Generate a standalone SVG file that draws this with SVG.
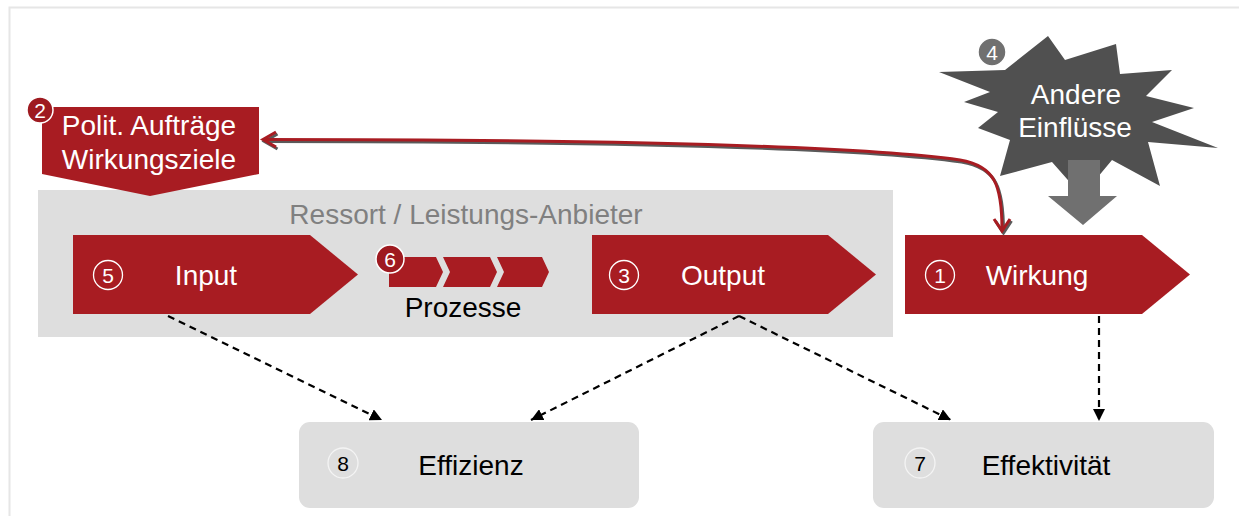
<svg xmlns="http://www.w3.org/2000/svg" width="1239" height="516" viewBox="0 0 1239 516">
<style>
text{font-family:"Liberation Sans",Arial,sans-serif;text-anchor:middle}
.lbl{font-size:28px}
.w{fill:#ffffff}
.k{fill:#000000}
.red{fill:#a81c22}
.num{font-size:21px}
.ring{fill:none;stroke:#ffffff;stroke-width:1.3}
.badge{fill:#9e1a20;stroke:#ffffff;stroke-width:1.5}
.dash{fill:none;stroke:#000;stroke-width:2.2;stroke-dasharray:7 5}
.box{fill:#dedede}
</style>
<defs>
<marker id="ah" viewBox="0 0 10 10" refX="10" refY="5" markerWidth="12" markerHeight="12" markerUnits="userSpaceOnUse" orient="auto">
<path d="M0,0 L10,5 L0,10 z" fill="#000"/>
</marker>
</defs>
<rect width="1239" height="516" fill="#ffffff"/>
<path d="M9.5,516 V7.5 H1239" fill="none" stroke="#e6e6e6" stroke-width="2"/>

<g id="container">
<rect x="38" y="190" width="855" height="147" class="box"/>
<text x="466" y="224" class="lbl" fill="#808080">Ressort / Leistungs-Anbieter</text>
</g>

<g id="polit">
<polygon points="42,107 259,107 259,174 150,196 42,174" class="red"/>
<text x="149" y="135" class="lbl w">Polit. Aufträge</text>
<text x="149" y="169" class="lbl w">Wirkungsziele</text>
<circle cx="40" cy="110" r="13" class="badge"/>
<text x="40" y="117.5" class="num w">2</text>
</g>

<g id="input">
<polygon points="73,235 310,235 358,274.5 310,314 73,314" class="red"/>
<circle cx="108" cy="275" r="14.5" class="ring"/>
<text x="108" y="282.5" class="num w">5</text>
<text x="206" y="285" class="lbl w">Input</text>
</g>

<g id="prozesse">
<polygon points="389,257 436,257 443,272 436,287 389,287" class="red"/>
<polygon points="443,257 490,257 497,272 490,287 443,287 450,272" class="red"/>
<polygon points="497,257 542,257 549,272 542,287 497,287 504,272" class="red"/>
<circle cx="390" cy="259" r="14" class="badge"/>
<text x="390" y="266.5" class="num w">6</text>
<text x="463" y="317" class="lbl k">Prozesse</text>
</g>

<g id="output">
<polygon points="592,235 828,235 876,274.5 828,314 592,314" class="red"/>
<circle cx="624" cy="275" r="14.5" class="ring"/>
<text x="624" y="282.5" class="num w">3</text>
<text x="723" y="285" class="lbl w">Output</text>
</g>

<g id="wirkung">
<polygon points="905,235 1142,235 1190,274.5 1142,314 905,314" class="red"/>
<circle cx="940" cy="275" r="14.5" class="ring"/>
<text x="940" y="282.5" class="num w">1</text>
<text x="1037" y="285" class="lbl w">Wirkung</text>
</g>

<g id="einfluesse">
<polygon points="939,72 1005,70 1048,36 1065,60 1116,44 1120,74 1172,70 1146,96 1194,108 1152,122 1218,148 1148,142 1160,186 1112,160 1082,196 1052,162 1000,176 1010,140 978,128 998,112 964,102 990,92" fill="#505050"/>
<polygon points="1068,160 1100,160 1100,196 1117,196 1083,225 1048,196 1068,196" fill="#707070"/>
<text x="1076" y="104" class="lbl w">Andere</text>
<text x="1075" y="137" class="lbl w">Einflüsse</text>
<circle cx="992" cy="52" r="14" fill="#707070" stroke="#ffffff" stroke-width="1.5"/>
<text x="992" y="59.5" class="num w">4</text>
</g>

<g id="effizienz">
<rect x="299" y="422" width="340" height="86" rx="11" class="box"/>
<circle cx="343" cy="463" r="15" fill="none" stroke="#f4f4f4" stroke-width="1.3"/>
<text x="343" y="470.5" class="num k">8</text>
<text x="471" y="475" class="lbl k">Effizienz</text>
</g>

<g id="effektivitaet">
<rect x="873" y="422" width="341" height="86" rx="11" class="box"/>
<circle cx="920" cy="463" r="15" fill="none" stroke="#f4f4f4" stroke-width="1.3"/>
<text x="920" y="470.5" class="num k">7</text>
<text x="1046" y="475" class="lbl k">Effektivität</text>
</g>

<g id="connectors">
<g transform="translate(1.5,2)" fill="none" stroke="#5a5a5a" stroke-width="3">
<path d="M263,139.5 C600,139.5 850,145 960,160 C995,166 1002,185 1002,230"/>
<polyline points="276,132 263,139.5 276,147"/>
<polyline points="994,219 1002,231 1010,219"/>
</g>
<g fill="none" stroke="#a81c22" stroke-width="3">
<path d="M263,139.5 C600,139.5 850,145 960,160 C995,166 1002,185 1002,230"/>
<polyline points="276,132 263,139.5 276,147"/>
<polyline points="994,219 1002,231 1010,219"/>
</g>
<path d="M168,316 L382,420" class="dash" marker-end="url(#ah)"/>
<path d="M739,316 L531,420" class="dash" marker-end="url(#ah)"/>
<path d="M739,316 L951,420" class="dash" marker-end="url(#ah)"/>
<path d="M1099,316 L1099,421" class="dash" marker-end="url(#ah)"/>
</g>
</svg>
